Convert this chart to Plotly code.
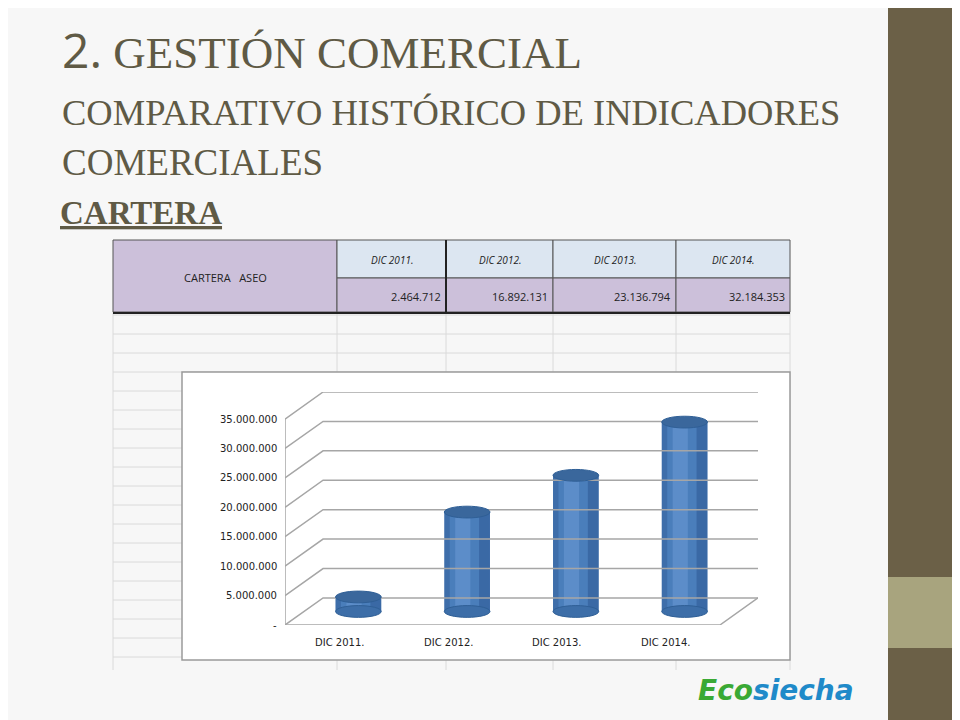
import plotly.graph_objects as go

categories = ["DIC 2011.", "DIC 2012.", "DIC 2013.", "DIC 2014."]
values = [2464712, 16892131, 23136794, 32184353]
value_labels = ["2.464.712", "16.892.131", "23.136.794", "32.184.353"]
y_ticks = [0, 5e6, 10e6, 15e6, 20e6, 25e6, 30e6, 35e6]
y_tick_labels = ["-", "5.000.000", "10.000.000", "15.000.000", "20.000.000",
                 "25.000.000", "30.000.000", "35.000.000"]

# the page puts the figure 8px in from the top-left corner
OFF = 8
W, H = 960 - OFF, 720 - OFF
def px(x): return (x - OFF) / W
def py(y): return 1 - (y - OFF) / H

# oblique depth of the 3D-looking chart
DX, DY = 0.35, 4.6e6
X0, X1 = -0.5, 3.5

fig = go.Figure()
shapes, ann = [], []

def label(x, y, text, size, color="#222", family="Open Sans", xanchor="center", **kw):
    ann.append(dict(x=x, y=y, xref=kw.pop("xref", "paper"), yref=kw.pop("yref", "paper"), text=text,
                    xanchor=xanchor, yanchor="middle", showarrow=False,
                    font=dict(family=family, size=size, color=color), **kw))

# right band
shapes.append(dict(type="rect", xref="paper", yref="paper", x0=px(888), x1=1, y0=0, y1=1,
                   fillcolor="#6b6047", line_width=0, layer="below"))
shapes.append(dict(type="rect", xref="paper", yref="paper", x0=px(888), x1=1, y0=py(648), y1=py(577),
                   fillcolor="#a8a47e", line_width=0, layer="below"))

# spreadsheet grid under the chart
cols = [113, 337, 446, 553, 676, 790]
for yy in range(315, 672, 19):
    shapes.append(dict(type="line", xref="paper", yref="paper", x0=px(113), x1=px(790),
                       y0=py(yy), y1=py(yy), line=dict(color="#dadada", width=1), layer="below"))
for xx in cols:
    shapes.append(dict(type="line", xref="paper", yref="paper", x0=px(xx), x1=px(xx),
                       y0=py(312), y1=py(670), line=dict(color="#dadada", width=1), layer="below"))

# table
shapes.append(dict(type="rect", xref="paper", yref="paper", x0=px(113), x1=px(337), y0=py(312), y1=py(240),
                   fillcolor="#ccc0da", line=dict(color="#555", width=1), layer="below"))
label(px(225), py(277), "CARTERA   ASEO", 11)
for i, c in enumerate(categories):
    a, b = cols[i + 1], cols[i + 2]
    shapes.append(dict(type="rect", xref="paper", yref="paper", x0=px(a), x1=px(b), y0=py(278), y1=py(240),
                       fillcolor="#dce6f1", line=dict(color="#555", width=1), layer="below"))
    shapes.append(dict(type="rect", xref="paper", yref="paper", x0=px(a), x1=px(b), y0=py(312), y1=py(278),
                       fillcolor="#ccc0da", line=dict(color="#555", width=1), layer="below"))
    label(px((a + b) / 2), py(260), "<i>" + c + "</i>", 10)
    label(px(b - 3), py(296), value_labels[i], 11, xanchor="right")
shapes.append(dict(type="line", xref="paper", yref="paper", x0=px(113), x1=px(790), y0=py(313), y1=py(313),
                   line=dict(color="#222", width=2)))
shapes.append(dict(type="line", xref="paper", yref="paper", x0=px(446), x1=px(446), y0=py(312), y1=py(240),
                   line=dict(color="#222", width=2)))

# chart box
shapes.append(dict(type="rect", xref="paper", yref="paper", x0=px(182), x1=px(790), y0=py(660), y1=py(372),
                   fillcolor="white", line=dict(color="#9a9a9a", width=1.5), layer="below"))

# oblique grid lines
grid = dict(color="#a6a6a6", width=1.5)
for v in y_ticks:
    fig.add_trace(go.Scatter(x=[X0, X0 + DX, X1 + DX], y=[v, v + DY, v + DY], mode="lines",
                             line=grid, hoverinfo="skip", showlegend=False))
fig.add_trace(go.Scatter(x=[X0, X1, X1 + DX], y=[0, 0, DY], mode="lines",
                         line=grid, hoverinfo="skip", showlegend=False))
fig.add_trace(go.Scatter(x=[X0, X0], y=[0, max(y_ticks)], mode="lines",
                         line=grid, hoverinfo="skip", showlegend=False))
for k in range(len(categories) + 1):
    fig.add_trace(go.Scatter(x=[X0 + k, X0 + k], y=[0, -0.8e6], mode="lines", cliponaxis=False,
                             line=grid, hoverinfo="skip", showlegend=False))

# bars (cylinders): value sits at mid depth
xs = [i + DX / 2 for i in range(len(categories))]
tops = [v + DY / 2 for v in values]
bw = 0.42
EH = 1.0e6
for x, t in zip(xs, tops):
    shapes.append(dict(type="circle", xref="x", yref="y", x0=x - bw / 2, x1=x + bw / 2,
                       y0=DY / 2 - EH, y1=DY / 2 + EH, fillcolor="#3d6ea8",
                       line=dict(color="#2f5f96", width=1)))
fig.add_trace(go.Bar(x=xs, y=values, base=DY / 2, width=bw,
                     marker=dict(color="#4a7ebb", line_width=0), showlegend=False, hoverinfo="skip"))
fig.add_trace(go.Bar(x=[x - 0.04 for x in xs], y=values, base=DY / 2, width=0.14,
                     marker=dict(color="rgba(110,155,215,0.5)", line_width=0), showlegend=False, hoverinfo="skip"))
fig.add_trace(go.Bar(x=[x + 0.16 for x in xs], y=values, base=DY / 2, width=0.1,
                     marker=dict(color="rgba(40,80,140,0.45)", line_width=0), showlegend=False, hoverinfo="skip"))
fig.add_trace(go.Bar(x=[x - 0.185 for x in xs], y=values, base=DY / 2, width=0.05,
                     marker=dict(color="rgba(40,80,140,0.35)", line_width=0), showlegend=False, hoverinfo="skip"))
for x, t in zip(xs, tops):
    shapes.append(dict(type="circle", xref="x", yref="y", x0=x - bw / 2, x1=x + bw / 2,
                       y0=t - EH, y1=t + EH, fillcolor="#3a679c", layer="above",
                       line=dict(color="#2f5f96", width=1)))

for v, t in zip(y_ticks, y_tick_labels):
    label(X0, v, t, 10, family="DejaVu Sans", xanchor="right", xref="x", yref="y", xshift=-6)
for i, c in enumerate(categories):
    label(i, py(642), c, 10, family="DejaVu Sans", xref="x")

# titles
tc = "#5f5a45"
label(px(60), py(50), "<span style='font-family:Open Sans;font-size:48px'>2.</span> GESTIÓN COMERCIAL",
      45, tc, "Liberation Serif", "left")
label(px(60), py(112), "COMPARATIVO HISTÓRICO DE INDICADORES", 36.5, tc, "Liberation Serif", "left")
label(px(60), py(162), "COMERCIALES", 37, tc, "Liberation Serif", "left")
label(px(58), py(213), "<b><u>CARTERA</u></b>", 33, tc, "Liberation Serif", "left")

# logo text
label(px(776), py(690), "<b><i><span style='color:#3aa935'>Eco</span><span style='color:#1f8ac9'>siecha</span></i></b>",
      28, family="DejaVu Sans")

fig.update_layout(
    width=W, height=H, margin=dict(l=0, r=0, t=0, b=0),
    paper_bgcolor="#f7f7f7", plot_bgcolor="rgba(0,0,0,0)",
    shapes=shapes, annotations=ann, barmode="overlay",
    xaxis=dict(domain=[px(285), px(758)], range=[X0, X1 + DX], visible=False, fixedrange=True),
    yaxis=dict(domain=[py(625), py(392)], range=[0, max(y_ticks) + DY], visible=False, fixedrange=True),
)
fig.write_html("out.html")
